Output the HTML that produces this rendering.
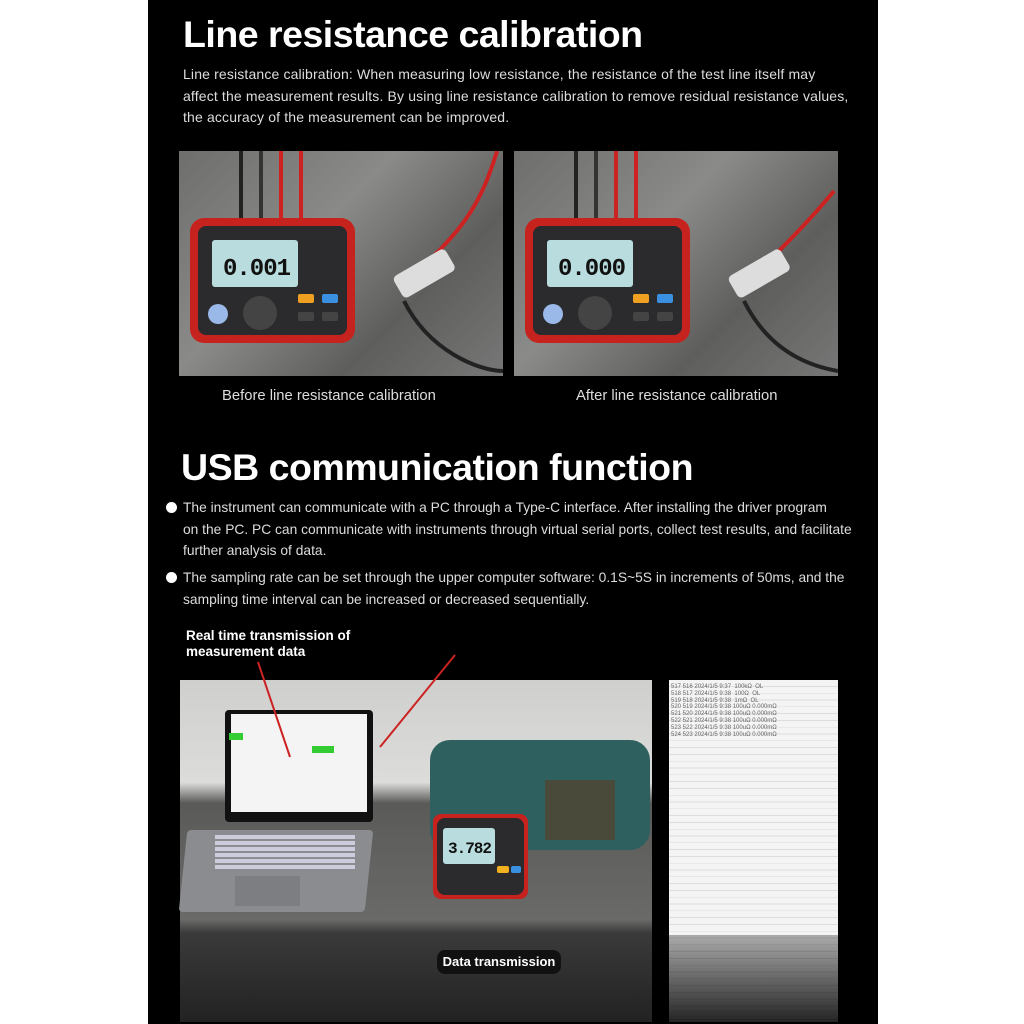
<!DOCTYPE html>
<html><head><meta charset="utf-8"><style>
*{margin:0;padding:0;box-sizing:border-box}
body{width:1024px;height:1024px;background:#fff;position:relative;overflow:hidden;font-family:"Liberation Sans",sans-serif}
.a{position:absolute}
#bg{left:148px;top:0;width:730px;height:1024px;background:#000}
h1{position:absolute;color:#fff;font-size:37.5px;font-weight:bold;letter-spacing:-0.5px;white-space:nowrap}
.p{position:absolute;color:#ddd;font-size:14px;line-height:21.5px;white-space:nowrap}
.cap{position:absolute;color:#ddd;font-size:14.8px;white-space:nowrap}
.photo{position:absolute;background:linear-gradient(135deg,#6e6e6c,#8a8a88 40%,#5e5e5c 70%,#777 100%)}
.meter{position:absolute;width:165px;height:125px;background:#c6221e;border-radius:14px}
.face{position:absolute;left:8px;top:8px;width:149px;height:109px;background:#2b2b2d;border-radius:8px}
.lcd{position:absolute;left:14px;top:14px;width:86px;height:47px;background:#b9dcde;border-radius:3px;color:#111;font-family:"Liberation Mono",monospace;font-weight:bold;font-size:24px;text-align:right;padding:16px 8px 0 0;letter-spacing:-1px}
.btn{position:absolute;width:16px;height:9px;border-radius:2px}
.bul{position:absolute;left:166px;width:11px;height:11px;border-radius:50%;background:#fff}
</style></head><body>
<div id="bg" class="a"></div>
<h1 style="left:183px;top:13px">Line resistance calibration</h1>
<div class="p" style="left:183px;top:64px;letter-spacing:0.15px">Line resistance calibration: When measuring low resistance, the resistance of the test line itself may<br>affect the measurement results. By using line resistance calibration to remove residual resistance values,<br>the accuracy of the measurement can be improved.</div>

<div class="photo" style="left:179px;top:151px;width:324px;height:225px"></div>
<div class="photo" style="left:514px;top:151px;width:324px;height:225px"></div>
<svg class="a" style="left:179px;top:151px" width="659" height="225">
<g stroke-width="4" fill="none">
<path d="M62 0 V70" stroke="#222"/><path d="M82 0 V70" stroke="#333"/><path d="M102 0 V70" stroke="#c22"/><path d="M122 0 V70" stroke="#c22"/>
<path d="M397 0 V70" stroke="#222"/><path d="M417 0 V70" stroke="#333"/><path d="M437 0 V70" stroke="#c22"/><path d="M457 0 V70" stroke="#c22"/>
<path d="M318 0 C300 60 280 80 240 120" stroke="#c22"/><path d="M225 150 C250 200 300 220 324 220" stroke="#222"/>
<path d="M655 40 C630 70 610 90 580 120" stroke="#c22"/><path d="M565 150 C590 200 630 215 659 220" stroke="#222"/>
</g>
<rect x="215" y="110" width="60" height="25" rx="5" fill="#ddd" transform="rotate(-30 245 122)"/>
<rect x="550" y="110" width="60" height="25" rx="5" fill="#ddd" transform="rotate(-30 580 122)"/>
</svg>
<div class="meter" style="left:190px;top:218px"><div class="face"><div class="lcd">0.001</div>
<div class="btn" style="left:100px;top:68px;background:#f0a020"></div><div class="btn" style="left:124px;top:68px;background:#3a8fe0"></div>
<div class="btn" style="left:100px;top:86px;background:#444"></div><div class="btn" style="left:124px;top:86px;background:#444"></div>
<div class="a" style="left:10px;top:78px;width:20px;height:20px;border-radius:50%;background:#9ab8e8"></div>
<div class="a" style="left:45px;top:70px;width:34px;height:34px;border-radius:50%;background:#444"></div></div></div>
<div class="meter" style="left:525px;top:218px"><div class="face"><div class="lcd">0.000</div>
<div class="btn" style="left:100px;top:68px;background:#f0a020"></div><div class="btn" style="left:124px;top:68px;background:#3a8fe0"></div>
<div class="btn" style="left:100px;top:86px;background:#444"></div><div class="btn" style="left:124px;top:86px;background:#444"></div>
<div class="a" style="left:10px;top:78px;width:20px;height:20px;border-radius:50%;background:#9ab8e8"></div>
<div class="a" style="left:45px;top:70px;width:34px;height:34px;border-radius:50%;background:#444"></div></div></div>

<div class="cap" style="left:222px;top:388px">Before line resistance calibration</div>
<div class="cap" style="left:576px;top:388px">After line resistance calibration</div>

<h1 style="left:181px;top:446px">USB communication function</h1>
<div class="bul" style="top:502px"></div>
<div class="p" style="left:183px;top:497px;font-size:13.8px">The instrument can communicate with a PC through a Type-C interface. After installing the driver program<br>on the PC. PC can communicate with instruments through virtual serial ports, collect test results, and facilitate<br>further analysis of data.</div>
<div class="bul" style="top:572px"></div>
<div class="p" style="left:183px;top:567px;font-size:13.8px">The sampling rate can be set through the upper computer software: 0.1S~5S in increments of 50ms, and the<br>sampling time interval can be increased or decreased sequentially.</div>
<div class="a" style="left:186px;top:628px;color:#fff;font-weight:bold;font-size:13.5px;line-height:16px">Real time transmission of<br>measurement data</div>

<div class="a" style="left:180px;top:680px;width:472px;height:342px;background:linear-gradient(#cfcfcd,#dcdcda 30%,#5a5a58 36%,#6a6a68 70%,#3a3a3a 74%,#222 100%)"></div>
<div class="a" style="left:225px;top:710px;width:148px;height:112px;background:#111;border-radius:4px"></div>
<div class="a" style="left:231px;top:714px;width:136px;height:98px;background:#f4f4f4"></div>
<div class="a" style="left:229px;top:733px;width:14px;height:7px;background:#3c3"></div>
<div class="a" style="left:312px;top:746px;width:22px;height:7px;background:#3c3"></div>
<div class="a" style="left:183px;top:830px;width:186px;height:82px;background:#8a8c90;border-radius:4px;transform:skewX(-6deg)"></div>
<div class="a" style="left:215px;top:835px;width:140px;height:36px;background:repeating-linear-gradient(#ccd 0 4px,#8a8c90 4px 6px)"></div>
<div class="a" style="left:235px;top:876px;width:65px;height:30px;background:#7c7e82"></div>
<div class="a" style="left:430px;top:740px;width:220px;height:110px;background:#2e6060;border-radius:20px"></div>
<div class="a" style="left:545px;top:780px;width:70px;height:60px;background:#4a4a3a"></div>
<div class="meter" style="left:433px;top:814px;width:95px;height:85px;border-radius:8px"><div class="face" style="left:4px;top:4px;width:87px;height:77px">
<div class="lcd" style="left:6px;top:10px;width:52px;height:36px;font-size:16px;padding:12px 4px 0 0">3.782</div>
<div class="btn" style="left:60px;top:48px;width:12px;height:7px;background:#f0b020"></div><div class="btn" style="left:74px;top:48px;width:10px;height:7px;background:#3a8fe0"></div></div></div>
<svg class="a" style="left:0;top:0" width="1024" height="1024"><path d="M258 662 L290 757" stroke="#c22" stroke-width="2"/><path d="M455 655 L380 747" stroke="#c22" stroke-width="2"/></svg>
<div class="a" style="left:437px;top:950px;width:124px;height:24px;background:#111;border-radius:8px;color:#fff;font-weight:bold;font-size:13px;text-align:center;line-height:24px">Data transmission</div>
<div class="a" style="left:669px;top:680px;width:169px;height:342px;background:repeating-linear-gradient(#f4f4f4 0 6px,#ddd 6px 6.8px);overflow:hidden;font-size:6px;color:#666;line-height:6.8px;padding:4px 2px;font-family:'Liberation Sans',sans-serif">
517 516 2024/1/5 9:37 &nbsp;100kΩ &nbsp;OL<br>518 517 2024/1/5 9:38 &nbsp;100Ω &nbsp;OL<br>519 518 2024/1/5 9:38 &nbsp;1mΩ &nbsp;OL<br>520 519 2024/1/5 9:38 100uΩ 0.000mΩ<br>521 520 2024/1/5 9:38 100uΩ 0.000mΩ<br>522 521 2024/1/5 9:38 100uΩ 0.000mΩ<br>523 522 2024/1/5 9:38 100uΩ 0.000mΩ<br>524 523 2024/1/5 9:38 100uΩ 0.000mΩ
</div>
<div class="a" style="left:669px;top:935px;width:169px;height:87px;background:linear-gradient(rgba(0,0,0,0.3),rgba(0,0,0,0.85))"></div>
</body></html>
